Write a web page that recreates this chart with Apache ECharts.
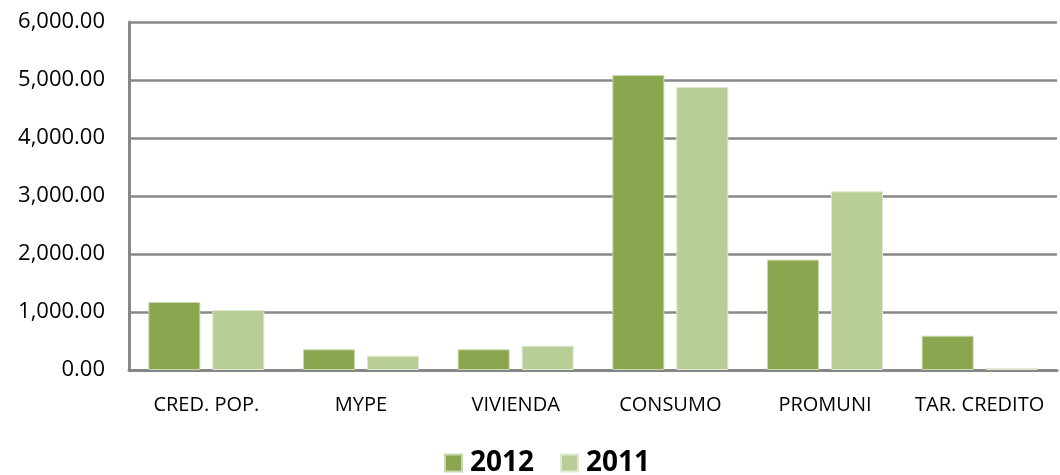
<!DOCTYPE html>
<html>
<head>
<meta charset="utf-8">
<script src="https://cdn.jsdelivr.net/npm/echarts@6/dist/echarts.min.js"></script>
<style>
html, body { margin: 0; padding: 0; background: #fff; }
#chart { width: 1060px; height: 475px; }
</style>
</head>
<body>
<div id="chart"></div>
<script>
// datos
const categories = ['CRED. POP.', 'MYPE', 'VIVIENDA', 'CONSUMO', 'PROMUNI', 'TAR. CREDITO']
const values2012 = [1172, 356, 356, 5086, 1903, 591]
const values2011 = [1034, 247, 419, 4880, 3081, 35]
const seriesNames = ['2012', '2011']

const ec = echarts.init(document.getElementById('chart'))

const fmt = v => v.toLocaleString('en-US', { minimumFractionDigits: 2, maximumFractionDigits: 2 })

ec.setOption({
    animation: false,
    textStyle: { fontFamily: 'Open Sans' },
    grid: { left: 129, right: 3, top: 22, bottom: 105 },
    legend: {
        data: seriesNames,
        bottom: -7,
        left: 439,
        itemWidth: 17,
        itemHeight: 17,
        itemGap: 26,
        icon: 'rect',
        textStyle: { fontSize: 28, fontWeight: 'bold', color: '#000', fontFamily: 'Open Sans', padding: [0, 0, 0, 3] }
    },
    xAxis: {
        type: 'category',
        data: categories,
        axisLine: { lineStyle: { color: '#878787', width: 3 } },
        axisTick: { show: false },
        axisLabel: { color: '#000', fontSize: 20, margin: 25, interval: 0, fontFamily: 'Open Sans' }
    },
    yAxis: {
        type: 'value',
        min: 0,
        max: 6000,
        interval: 1000,
        axisLine: { show: true, lineStyle: { color: '#878787', width: 3 } },
        axisTick: { show: false },
        axisLabel: { color: '#000', fontSize: 22, margin: 24, formatter: fmt, fontFamily: 'Open Sans' },
        splitLine: { show: true, lineStyle: { color: '#878787', width: 2.5 } }
    },
    series: [
        {
            name: seriesNames[0],
            type: 'bar',
            data: values2012,
            barGap: '23%',
            barCategoryGap: '25%',
            itemStyle: { color: '#8AA64F', borderColor: '#c9d8ad', borderWidth: 1 }
        },
        {
            name: seriesNames[1],
            type: 'bar',
            data: values2011,
            itemStyle: { color: '#B9CE96', borderColor: '#dfe9cf', borderWidth: 1 }
        }
    ]
})
</script>
</body>
</html>
